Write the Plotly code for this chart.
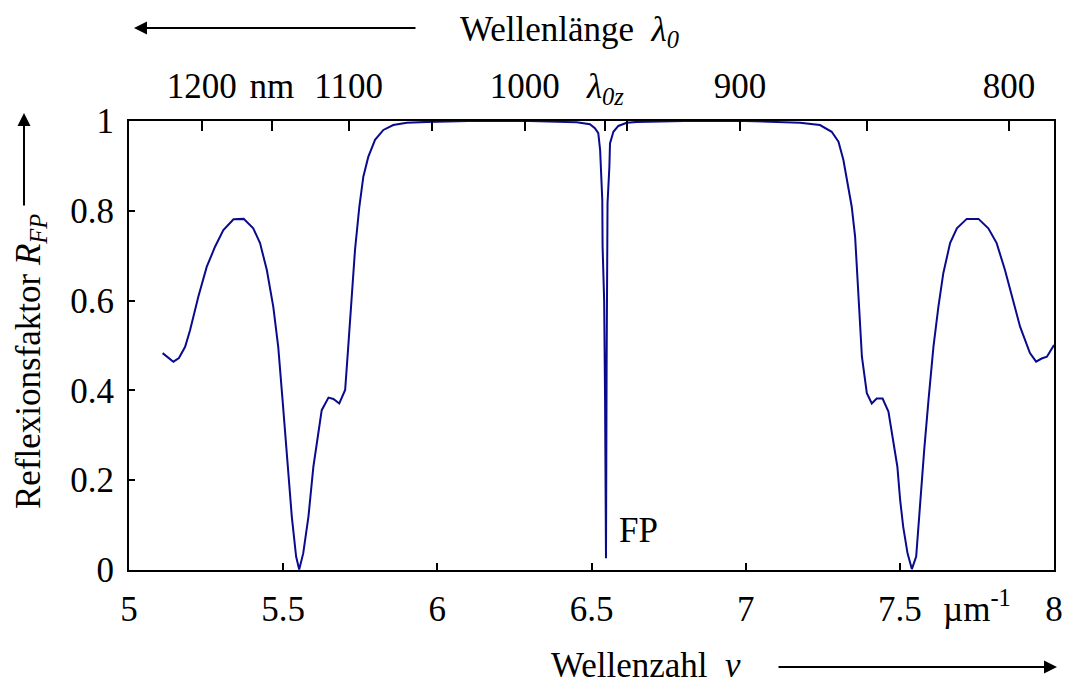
import math
import plotly.graph_objects as go

# ---- data ----
nu = [5.109, 5.144, 5.162, 5.182, 5.198, 5.225, 5.252, 5.279, 5.306, 5.339,
      5.372, 5.403, 5.425, 5.447, 5.468, 5.484, 5.498, 5.511, 5.528, 5.542,
      5.552, 5.565, 5.582, 5.598, 5.614, 5.625, 5.647, 5.663, 5.682, 5.701,
      5.711, 5.722, 5.733, 5.747, 5.760, 5.776, 5.798, 5.825, 5.857, 5.901,
      5.966, 6.100, 6.300, 6.452, 6.495, 6.511, 6.522, 6.528, 6.531, 6.535,
      6.536, 6.541, 6.544, 6.545, 6.547, 6.549, 6.551, 6.552, 6.558, 6.560,
      6.571, 6.587, 6.614, 6.647, 6.800, 7.000, 7.176, 7.241, 7.279, 7.301,
      7.317, 7.333, 7.344, 7.355, 7.366, 7.377, 7.393, 7.409, 7.425, 7.444,
      7.463, 7.479, 7.492, 7.501, 7.511, 7.525, 7.539, 7.553, 7.566, 7.579,
      7.593, 7.609, 7.625, 7.641, 7.663, 7.685, 7.717, 7.755, 7.787, 7.814,
      7.841, 7.868, 7.890, 7.922, 7.942, 7.960, 7.977, 8.000]
reflex = [0.483, 0.464, 0.472, 0.497, 0.534, 0.609, 0.675, 0.720, 0.757, 0.781,
          0.782, 0.761, 0.728, 0.668, 0.586, 0.497, 0.379, 0.267, 0.119, 0.030,
          0.001, 0.037, 0.119, 0.230, 0.304, 0.356, 0.384, 0.381, 0.371, 0.401,
          0.497, 0.601, 0.713, 0.809, 0.876, 0.920, 0.958, 0.980, 0.991, 0.996,
          0.998, 1.000, 1.000, 0.997, 0.993, 0.984, 0.973, 0.935, 0.891, 0.824,
          0.720, 0.601, 0.379, 0.156, 0.026, 0.453, 0.638, 0.817, 0.898, 0.950,
          0.976, 0.989, 0.996, 0.998, 1.000, 1.000, 0.996, 0.991, 0.976, 0.954,
          0.913, 0.854, 0.809, 0.742, 0.601, 0.475, 0.394, 0.371, 0.382, 0.382,
          0.353, 0.290, 0.230, 0.156, 0.096, 0.037, 0.002, 0.030, 0.156, 0.267,
          0.379, 0.497, 0.586, 0.661, 0.728, 0.761, 0.782, 0.782, 0.761, 0.728,
          0.668, 0.601, 0.542, 0.483, 0.464, 0.471, 0.475, 0.501]

bottom_ticks = [5, 5.5, 6, 6.5, 7, 7.5, 8]
bottom_labels = ["5", "5.5", "6", "6.5", "7", "7.5", "8"]
top_nm = [1200, 1150, 1100, 1050, 1000, 960, 950, 900, 850, 800]
top_labels = ["1200", "nm", "1100", "", "1000", "<i>λ<sub>0z</sub></i>", "", "900", "", "800"]
y_ticks = [0, 0.2, 0.4, 0.6, 0.8, 1]
y_labels = ["0", "0.2", "0.4", "0.6", "0.8", "1"]

top_pos = [2000 * math.pi / v for v in top_nm]  # nu = 2*pi/lambda (µm^-1)

FONT = "Times New Roman, Liberation Serif, DejaVu Serif, serif"
FS = 35

fig = go.Figure()
fig.add_trace(go.Scatter(x=nu, y=reflex, mode="lines",
                         line=dict(color="#0a0a8c", width=2), hoverinfo="skip"))
fig.add_trace(go.Scatter(x=[5, 8], y=[0, 0], mode="markers", xaxis="x2",
                         marker=dict(opacity=0), hoverinfo="skip"))

fig.update_layout(
    width=1070, height=684,
    margin=dict(l=121, r=24, t=113, b=122, autoexpand=False),
    paper_bgcolor="white", plot_bgcolor="white",
    showlegend=False,
    font=dict(family=FONT, size=FS, color="black"),
    xaxis=dict(range=[5, 8], tickvals=bottom_ticks, ticktext=bottom_labels,
               ticks="inside", ticklen=7, tickwidth=1.5, tickcolor="black",
               showline=True, linewidth=2, linecolor="black", mirror=True,
               showgrid=False, zeroline=False, automargin=False,
               ticklabelstandoff=7, tickfont=dict(family=FONT, size=FS)),
    xaxis2=dict(range=[5, 8], overlaying="x", side="top", anchor="y",
                tickvals=top_pos, ticktext=top_labels,
                ticks="inside", ticklen=10, tickwidth=1.5, tickcolor="black",
                showline=False, showgrid=False, zeroline=False, automargin=False,
                ticklabelstandoff=15, tickfont=dict(family=FONT, size=FS)),
    yaxis=dict(range=[0, 1], tickvals=y_ticks, ticktext=y_labels,
               ticks="inside", ticklen=6, tickwidth=1.5, tickcolor="black",
               showline=True, linewidth=2, linecolor="black", mirror=True,
               showgrid=False, zeroline=False, automargin=False,
               ticklabelstandoff=6, tickfont=dict(family=FONT, size=FS)),
)

def px_x(p):
    return (p - 129) / 925.0

def px_y(p):
    return (570 - p) / 449.0

ann = []
ann.append(dict(text="Wellenlänge  <i>λ<sub>0</sub></i>", x=px_x(569), y=px_y(31),
                xref="paper", yref="paper", showarrow=False, xanchor="center", yanchor="middle"))
ann.append(dict(text="Wellenzahl  <i>ν</i>", x=px_x(646), y=px_y(665),
                xref="paper", yref="paper", showarrow=False, xanchor="center", yanchor="middle"))
ann.append(dict(text="Reflexionsfaktor <i>R<sub>FP</sub></i>", x=px_x(30), y=px_y(362),
                xref="paper", yref="paper", showarrow=False, textangle=-90,
                xanchor="center", yanchor="middle"))
ann.append(dict(text="µm<sup>-1</sup>", x=px_x(977), y=px_y(606),
                xref="paper", yref="paper", showarrow=False, xanchor="center", yanchor="middle"))
ann.append(dict(text="FP", x=6.654, y=0.089, xref="x", yref="y",
                showarrow=False, xanchor="center", yanchor="middle"))
ann.append(dict(text="", x=px_x(134), y=px_y(28), xref="paper", yref="paper",
                ax=283, ay=0, showarrow=True, arrowhead=2, arrowsize=1.3,
                arrowwidth=2, arrowcolor="black"))
ann.append(dict(text="", x=px_x(1057), y=px_y(667), xref="paper", yref="paper",
                ax=-280, ay=0, showarrow=True, arrowhead=2, arrowsize=1.3,
                arrowwidth=2, arrowcolor="black"))
ann.append(dict(text="", x=px_x(24), y=px_y(113), xref="paper", yref="paper",
                ax=0, ay=94, showarrow=True, arrowhead=2, arrowsize=1.3,
                arrowwidth=2, arrowcolor="black"))
fig.update_layout(annotations=ann)

fig.write_html("out.html")
